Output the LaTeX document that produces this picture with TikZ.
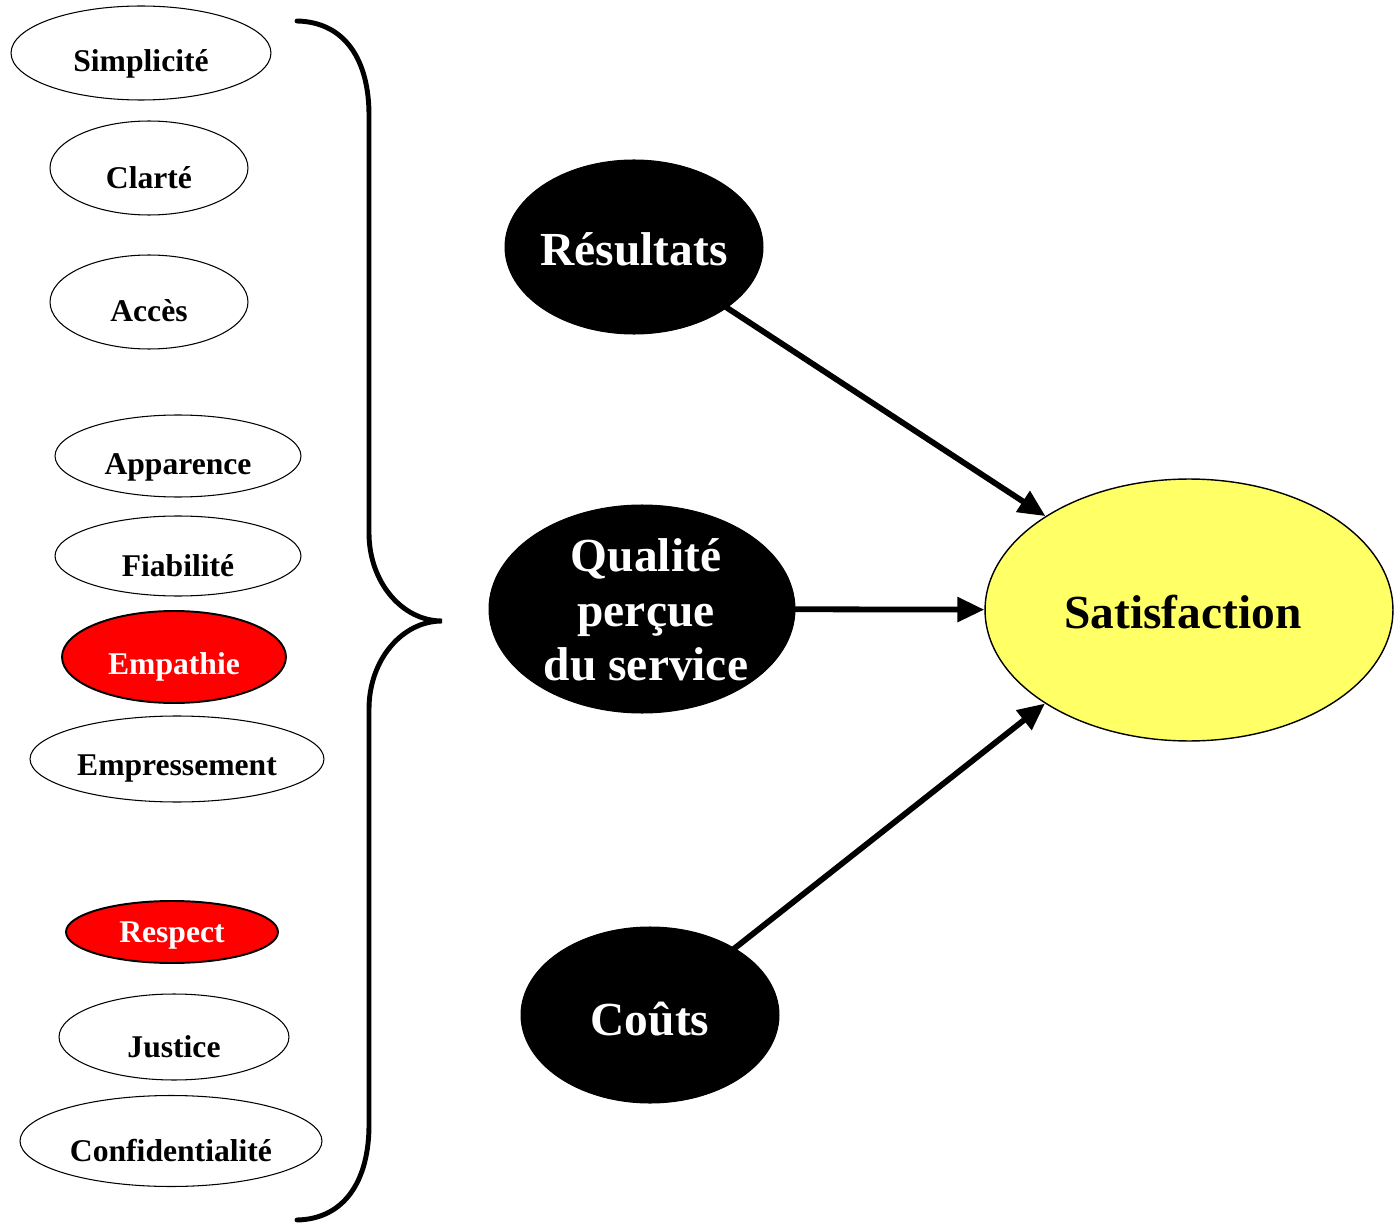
\documentclass[tikz,border=0pt]{standalone}
\usepackage{fontspec}
\setmainfont{Liberation Serif}
\usetikzlibrary{shapes.geometric,arrows.meta}
\definecolor{satyellow}{RGB}{255,255,102}
\tikzset{
  facet/.style={ellipse, draw=black, line width=0.6pt, fill=white, inner sep=0pt},
  hot/.style={facet, fill=red, line width=1.1pt},
  driver/.style={ellipse, draw=black, line width=0.6pt, fill=black, inner sep=0pt},
  goal/.style={ellipse, draw=black, line width=0.8pt, fill=satyellow, inner sep=0pt},
  small/.style={font=\bfseries\fontsize{18}{20}\selectfont},
  big/.style={font=\bfseries\fontsize{27}{30}\selectfont, align=center},
  brace/.style={line width=2.8pt, line cap=round},
  link/.style={line width=3.3pt, -{Triangle[length=0.54cm,width=0.48cm]}, shorten <=-1pt}
}
\begin{document}
\begin{tikzpicture}[x=0.02cm, y=-0.02cm]
\useasboundingbox (0,0) rectangle (1394,1223);

% facets of perceived quality
\node[facet, minimum width=5.2cm, minimum height=1.88cm] (simp) at (141,53) {};
\node[facet, minimum width=3.96cm, minimum height=1.88cm] (clar) at (149,168) {};
\node[facet, minimum width=3.96cm, minimum height=1.88cm] (acce) at (149,302) {};
\node[facet, minimum width=4.92cm, minimum height=1.64cm] (appa) at (178,456) {};
\node[facet, minimum width=4.92cm, minimum height=1.6cm] (fiab) at (178,556) {};
\node[hot, minimum width=4.48cm, minimum height=1.84cm] (empa) at (174,657) {};
\node[facet, minimum width=5.88cm, minimum height=1.72cm] (empr) at (177,759) {};
\node[hot, minimum width=4.24cm, minimum height=1.24cm] (resp) at (172,932) {};
\node[facet, minimum width=4.6cm, minimum height=1.72cm] (just) at (174,1037) {};
\node[facet, minimum width=6.04cm, minimum height=1.82cm] (conf) at (171,1141) {};

\node[small] (simpT) at ([yshift=-0.22cm]simp.center) {Simplicité};
\node[small] (clarT) at ([yshift=-0.2cm]clar.center) {Clarté};
\node[small] (acceT) at ([yshift=-0.18cm]acce.center) {Accès};
\node[small] (appaT) at ([yshift=-0.22cm]appa.center) {Apparence};
\node[small] (fiabT) at ([yshift=-0.2cm]fiab.center) {Fiabilité};
\node[small, text=white] (empaT) at ([yshift=-0.2cm]empa.center) {Empathie};
\node[small] (emprT) at ([yshift=-0.2cm]empr.center) {Empressement};
\node[small, text=white] (respT) at ([yshift=-0.08cm]resp.center) {Respect};
\node[small] (justT) at ([yshift=-0.2cm]just.center) {Justice};
\node[small] (confT) at ([yshift=-0.2cm]conf.center) {Confidentialité};

% grouping brace
\draw[brace] (297,21) .. controls (345,22) and (369,60) .. (369,115)
  -- (369,533) .. controls (369,582) and (402,621) .. (442,621)
  .. controls (402,621) and (369,660) .. (369,709)
  -- (369,1125) .. controls (369,1180) and (345,1219) .. (297,1220);

% drivers and outcome
\node[driver, minimum width=5.16cm, minimum height=3.48cm] (resu) at (634,247) {};
\node[driver, minimum width=6.12cm, minimum height=4.16cm] (qual) at (642,609) {};
\node[driver, minimum width=5.16cm, minimum height=3.52cm] (cout) at (650,1015) {};
\node[goal, minimum width=8.16cm, minimum height=5.24cm] (sati) at (1189,610) {};

\node[big, text=white] (resuT) at ([yshift=-0.04cm]resu.center) {Résultats};
\node[big, text=white, font=\bfseries\fontsize{27}{31}\selectfont] (qualT) at ([xshift=0.08cm,yshift=-0.02cm]qual.center) {Qualité\\perçue\\du service};
\node[big, text=white] (coutT) at ([yshift=-0.08cm]cout.center) {Coûts};
\node[big] (satiT) at ([xshift=-0.12cm,yshift=-0.04cm]sati.center) {Satisfaction};

% influences on satisfaction
\draw[link] (resu) -- (sati);
\draw[link] (qual) -- (sati);
\draw[link] (cout) -- (sati.213);
\end{tikzpicture}
\end{document}
